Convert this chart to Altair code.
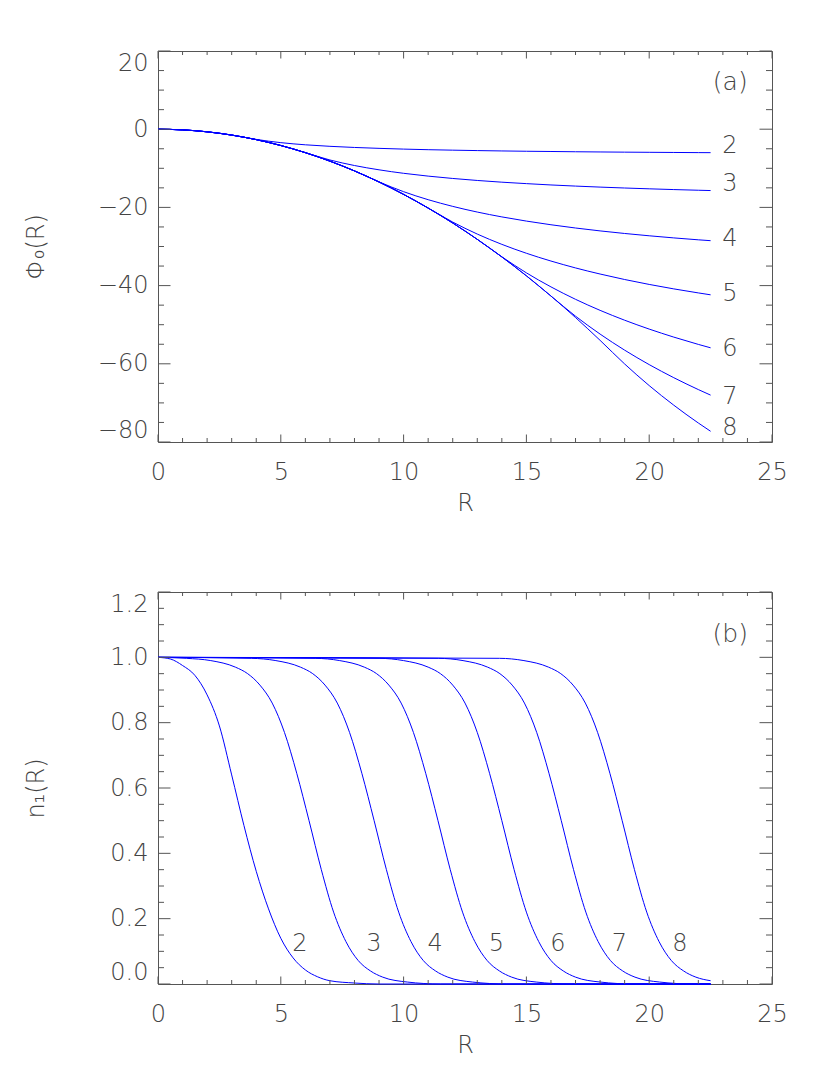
import altair as alt
import pandas as pd

# ---------------- data ----------------
CURVES = ["2", "3", "4", "5", "6", "7", "8"]

# panel (a): Phi_0(R)
PHI_R = [0, 1, 2, 3, 4, 5, 6, 7, 8, 9, 10, 11, 12, 13, 14, 15, 16, 17, 18, 19, 20, 21, 22, 22.5]
PHI_2 = [0, -0.17, -0.67, -1.5, -2.61, -3.44, -3.99, -4.38, -4.67, -4.90, -5.09, -5.24, -5.36, -5.47,
         -5.56, -5.64, -5.70, -5.77, -5.82, -5.87, -5.91, -5.95, -5.99, -6.00]
PHI_3 = [0, -0.17, -0.67, -1.5, -2.67, -4.17, -6.0, -7.87, -9.29, -10.39, -11.28, -12.0, -12.6, -13.11,
         -13.55, -13.92, -14.26, -14.55, -14.81, -15.04, -15.25, -15.44, -15.61, -15.69]
PHI_4 = [0, -0.17, -0.67, -1.5, -2.67, -4.17, -6.0, -8.17, -10.67, -13.47, -15.98, -18.03, -19.74, -21.19,
         -22.43, -23.5, -24.44, -25.27, -26.01, -26.67, -27.26, -27.8, -28.29, -28.51]
PHI_5 = [0, -0.17, -0.67, -1.5, -2.67, -4.17, -6.0, -8.17, -10.67, -13.5, -16.67, -20.17, -23.75, -26.82,
         -29.45, -31.73, -33.72, -35.48, -37.04, -38.44, -39.7, -40.84, -41.87, -42.36]
PHI_6 = [0, -0.17, -0.67, -1.5, -2.67, -4.17, -6.0, -8.17, -10.67, -13.5, -16.67, -20.17, -24.0, -28.17,
         -32.63, -36.74, -40.33, -43.51, -46.33, -48.85, -51.12, -53.17, -55.04, -55.91]
PHI_7 = [0, -0.17, -0.67, -1.5, -2.67, -4.17, -6.0, -8.17, -10.67, -13.5, -16.67, -20.17, -24.0, -28.17,
         -32.67, -37.5, -42.67, -47.82, -52.4, -56.51, -60.21, -63.55, -66.59, -68.01]
PHI_8 = [0, -0.17, -0.67, -1.5, -2.67, -4.17, -6.0, -8.17, -10.67, -13.5, -16.67, -20.17, -24.0, -28.17,
         -32.67, -37.5, -42.67, -48.17, -54.0, -60.04, -65.57, -70.58, -75.14, -77.26]

# panel (b): n_1(R)
N_R2 = [0, 0.5, 1, 1.5, 2, 2.5, 3, 3.5, 4, 4.5, 5, 5.5, 6, 6.5, 7, 8, 9, 22.5]
N_2 = [1.0, 0.995, 0.975, 0.945, 0.885, 0.79, 0.64, 0.485, 0.345, 0.23, 0.14, 0.08, 0.043, 0.022, 0.01, 0.003, 0.0, 0.0]
N_R3 = [0, 1.15, 2.15, 3.15, 3.65, 4.15, 4.65, 5.15, 5.65, 6.15, 6.65, 7.15, 7.65, 8.15, 8.65, 9.15, 10.15, 11.5, 22.5]
N_3 = [1.0, 0.997, 0.99, 0.97, 0.95, 0.915, 0.86, 0.77, 0.645, 0.5, 0.35, 0.22, 0.13, 0.072, 0.04, 0.021, 0.006, 0.0, 0.0]
N_R4 = [0, 3.8, 4.8, 5.8, 6.3, 6.8, 7.3, 7.8, 8.3, 8.8, 9.3, 9.8, 10.3, 10.8, 11.3, 11.8, 12.8, 14.2, 22.5]
N_4 = [1.0, 0.997, 0.99, 0.97, 0.95, 0.915, 0.86, 0.77, 0.645, 0.5, 0.35, 0.22, 0.13, 0.072, 0.04, 0.021, 0.006, 0.0, 0.0]
N_R5 = [0, 6.4, 7.4, 8.4, 8.9, 9.4, 9.9, 10.4, 10.9, 11.4, 11.9, 12.4, 12.9, 13.4, 13.9, 14.4, 15.4, 16.8, 22.5]
N_5 = [1.0, 0.997, 0.99, 0.97, 0.95, 0.915, 0.86, 0.77, 0.645, 0.5, 0.35, 0.22, 0.13, 0.072, 0.04, 0.021, 0.006, 0.0, 0.0]
N_R6 = [0, 9.0, 10.0, 11.0, 11.5, 12.0, 12.5, 13.0, 13.5, 14.0, 14.5, 15.0, 15.5, 16.0, 16.5, 17.0, 18.0, 19.4, 22.5]
N_6 = [1.0, 0.997, 0.99, 0.97, 0.95, 0.915, 0.86, 0.77, 0.645, 0.5, 0.35, 0.22, 0.13, 0.072, 0.04, 0.021, 0.006, 0.0, 0.0]
N_R7 = [0, 11.42, 12.42, 13.42, 13.92, 14.42, 14.92, 15.42, 15.92, 16.42, 16.92, 17.42, 17.92, 18.42, 18.92, 19.42, 20.42, 21.8, 22.5]
N_7 = [1.0, 0.997, 0.99, 0.97, 0.95, 0.915, 0.86, 0.77, 0.645, 0.5, 0.35, 0.22, 0.13, 0.072, 0.04, 0.021, 0.006, 0.0, 0.0]
N_R8 = [0, 13.9, 14.9, 15.9, 16.4, 16.9, 17.4, 17.9, 18.4, 18.9, 19.4, 19.9, 20.4, 20.9, 21.4, 21.9, 22.5]
N_8 = [1.0, 0.997, 0.99, 0.97, 0.95, 0.915, 0.86, 0.77, 0.645, 0.5, 0.35, 0.22, 0.13, 0.072, 0.04, 0.021, 0.01]

# curve label positions
LABEL_A_R = [23.29, 23.29, 23.29, 23.29, 23.29, 23.29, 23.29]
LABEL_A_V = [-4.2, -14.1, -28.2, -42.2, -56.2, -68.4, -76.3]
LABEL_B_R = [5.78, 8.79, 11.28, 13.78, 16.28, 18.79, 21.25]
LABEL_B_V = [0.123, 0.123, 0.123, 0.123, 0.123, 0.123, 0.123]
PANEL_A = {"R": [23.3], "v": [12.0], "t": ["(a)"]}
PANEL_B = {"R": [23.3], "v": [1.072], "t": ["(b)"]}

# tick values
X_MAJOR = [0, 5, 10, 15, 20, 25]
X_MINOR = [1, 2, 3, 4, 6, 7, 8, 9, 11, 12, 13, 14, 16, 17, 18, 19, 21, 22, 23, 24]
YA_MAJOR = [-80, -60, -40, -20, 0, 20]
YA_MINOR = [-75, -70, -65, -55, -50, -45, -35, -30, -25, -15, -10, -5, 5, 10, 15]
YB_MAJOR = [0.0, 0.2, 0.4, 0.6, 0.8, 1.0, 1.2]
YB_MINOR = [0.05, 0.1, 0.15, 0.25, 0.3, 0.35, 0.45, 0.5, 0.55, 0.65, 0.7, 0.75,
            0.85, 0.9, 0.95, 1.05, 1.1, 1.15]

# ---------------- styling ----------------
W = 614
H_A = 391
H_B = 392
FONT = "DejaVu Sans"
FW = 200
TXT = "#444444"
FRAME = "#555555"
LINE = "#0000ff"
FS = 24


def long_df(rs_list, vs_list):
    rows = []
    for name, rs, vs in zip(CURVES, rs_list, vs_list):
        for r, v in zip(rs, vs):
            rows.append({"R": r, "v": v, "curve": name})
    return pd.DataFrame(rows)


def panel(lines_df, lab_r, lab_v, plabel, ydom, ymajor, yminor, H, ytitle, yfmt):
    xs = alt.Scale(domain=[0, 25], nice=False, zero=False)
    ys = alt.Scale(domain=ydom, nice=False, zero=False)
    xaxis = alt.Axis(values=X_MAJOR, format="d", title="R", grid=False, ticks=False, tickSize=0,
                     domain=False, labelFontSize=FS, labelFont=FONT, labelFontWeight=FW,
                     labelColor=TXT, labelPadding=30, labelBaseline="middle", labelFlush=False,
                     titleFont=FONT, titleFontSize=FS, titleFontWeight=FW, titleColor=TXT,
                     titleX=W / 2, titleY=61, titleAlign="center", titleBaseline="middle")
    yaxis = alt.Axis(values=ymajor, format=yfmt, title=ytitle, grid=False, ticks=False, tickSize=0,
                     domain=False, labelFontSize=FS, labelFont=FONT, labelFontWeight=FW,
                     labelColor=TXT, labelPadding=10, labelFlush=True,
                     titleFont=FONT, titleFontSize=FS, titleFontWeight=FW, titleColor=TXT,
                     titleAngle=270, titleX=-122, titleY=H / 2, titleAlign="center",
                     titleBaseline="middle")
    X = alt.X("R:Q", scale=xs, axis=xaxis)
    Y = alt.Y("v:Q", scale=ys, axis=yaxis)

    lines = alt.Chart(lines_df).mark_line(
        interpolate="monotone", strokeWidth=1, color=LINE
    ).encode(x=X, y=Y, detail="curve:N")

    labs = alt.Chart(pd.DataFrame({"R": lab_r, "v": lab_v, "t": CURVES})).mark_text(
        font=FONT, fontSize=FS, fontWeight=FW, color=TXT, align="center", baseline="middle"
    ).encode(x=X, y=Y, text="t:N")

    plab = alt.Chart(pd.DataFrame(plabel)).mark_text(
        font=FONT, fontSize=FS + 1, fontWeight=FW, color=TXT, align="center", baseline="middle"
    ).encode(x=X, y=Y, text="t:N")

    xmaj = pd.DataFrame({"R": X_MAJOR})
    xmin = pd.DataFrame({"R": X_MINOR})
    ymaj = pd.DataFrame({"v": ymajor})
    ymin = pd.DataFrame({"v": yminor})

    def xt(df, y0, y1):
        return alt.Chart(df).mark_rule(color=FRAME, strokeWidth=1).encode(
            x=X, y=alt.value(y0), y2=alt.value(y1))

    def yt(df, x0, x1):
        return alt.Chart(df).mark_rule(color=FRAME, strokeWidth=1).encode(
            y=Y, x=alt.value(x0), x2=alt.value(x1))

    ticks = [
        xt(xmaj, H, H - 7.5), xt(xmin, H, H - 4),
        xt(xmaj, 0, 7.5), xt(xmin, 0, 4),
        yt(ymaj, 0, 12.5), yt(ymin, 0, 6),
        yt(ymaj, W, W - 12.5), yt(ymin, W, W - 6),
    ]
    return alt.layer(lines, *ticks, labs, plab).properties(width=W, height=H)


top = panel(long_df([PHI_R] * 7, [PHI_2, PHI_3, PHI_4, PHI_5, PHI_6, PHI_7, PHI_8]),
            LABEL_A_R, LABEL_A_V, PANEL_A, [-80, 20], YA_MAJOR, YA_MINOR, H_A, "Φ₀(R)", "d")
bottom = panel(long_df([N_R2, N_R3, N_R4, N_R5, N_R6, N_R7, N_R8], [N_2, N_3, N_4, N_5, N_6, N_7, N_8]),
               LABEL_B_R, LABEL_B_V, PANEL_B, [0, 1.2], YB_MAJOR, YB_MINOR, H_B, "n₁(R)", ".1f")

chart = alt.vconcat(top, bottom, spacing=150, bounds="flush").properties(
    padding={"left": 15, "top": 42, "right": 10, "bottom": 10},
    background="white",
).configure_view(stroke=FRAME, strokeWidth=1)

chart.save("out.html", embed_options={"renderer": "svg", "actions": False})
